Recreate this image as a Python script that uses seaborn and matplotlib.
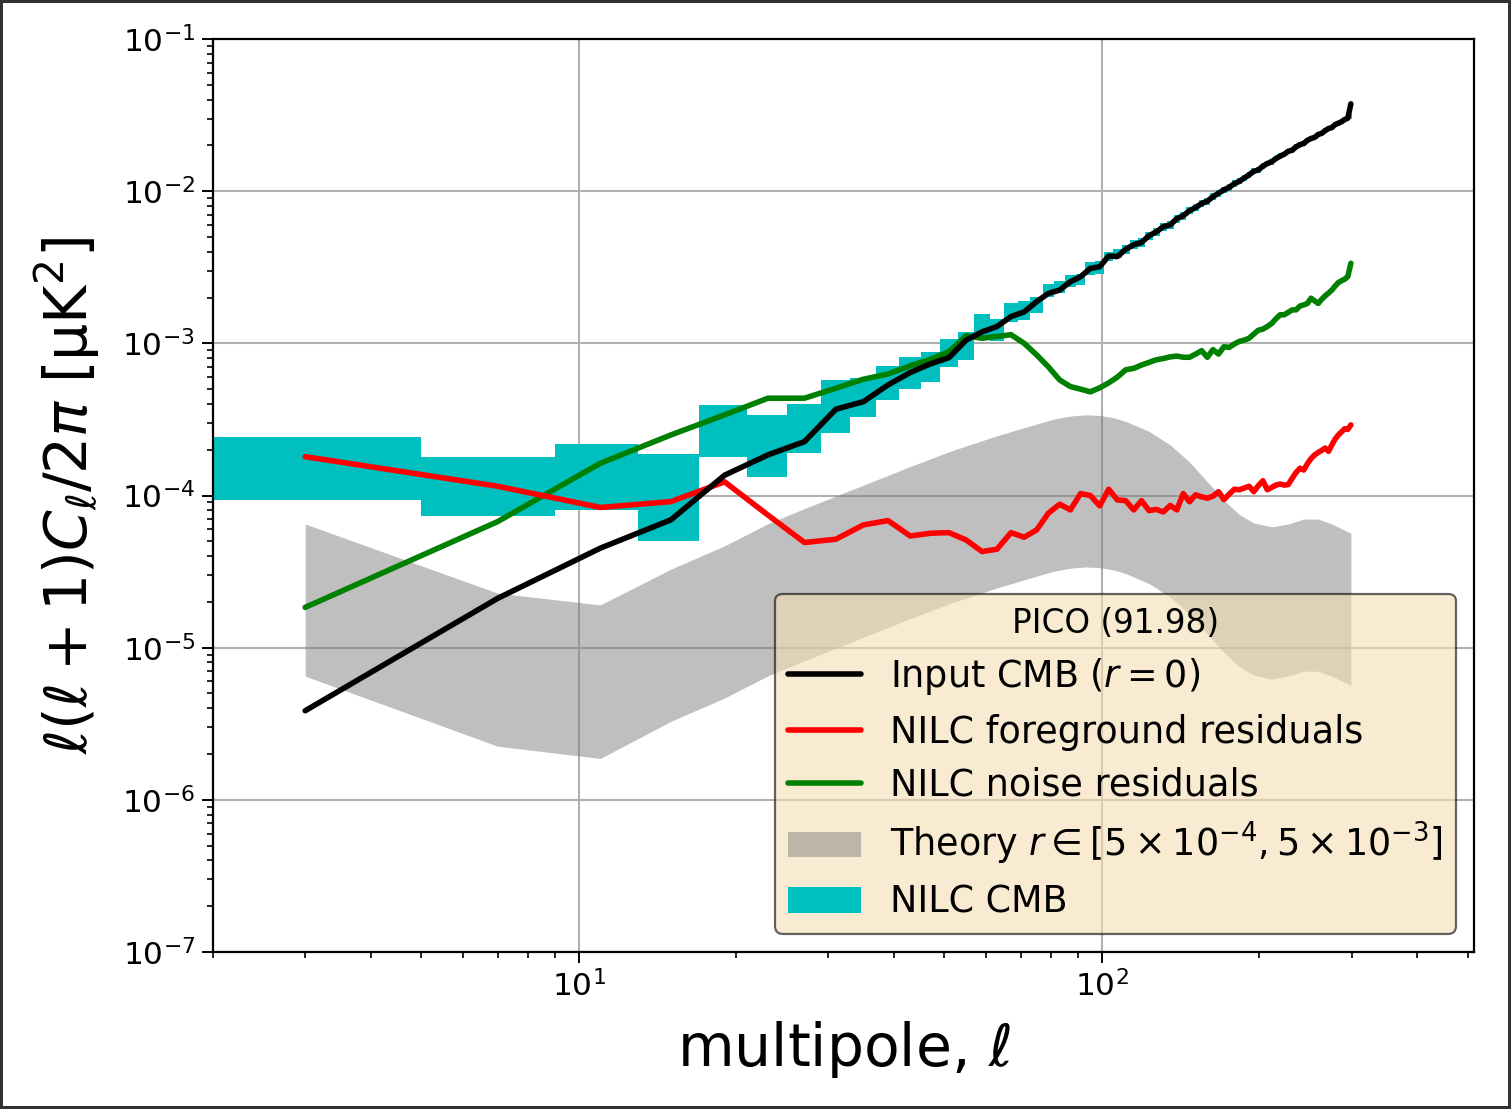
import numpy as np
import pandas as pd
import matplotlib
matplotlib.use("Agg")
import matplotlib.pyplot as plt
from matplotlib.lines import Line2D
from matplotlib.patches import Patch
import seaborn as sns

# ---------------- data ----------------
ell = np.arange(3, 300, 4)          # bin centres (bins of width 4)
bin_width = 4

input_cmb = [3.85e-6, 2.11e-5, 4.51e-5, 6.92e-5, 1.36e-4, 1.85e-4, 2.26e-4, 3.69e-4, 4.14e-4, 5.33e-4,
             6.43e-4, 7.33e-4, 8.06e-4, 1.05e-3, 1.19e-3, 1.29e-3, 1.50e-3, 1.61e-3, 1.88e-3, 2.13e-3,
             2.24e-3, 2.54e-3, 2.74e-3, 3.11e-3, 3.19e-3, 3.75e-3, 3.72e-3, 4.15e-3, 4.45e-3, 4.60e-3,
             5.10e-3, 5.40e-3, 5.85e-3, 6.00e-3, 6.60e-3, 6.90e-3, 7.45e-3, 7.80e-3, 8.30e-3, 8.60e-3,
             9.20e-3, 9.70e-3, 1.02e-2, 1.06e-2, 1.12e-2, 1.16e-2, 1.22e-2, 1.28e-2, 1.35e-2, 1.38e-2,
             1.46e-2, 1.52e-2, 1.56e-2, 1.64e-2, 1.70e-2, 1.75e-2, 1.83e-2, 1.86e-2, 1.96e-2, 2.02e-2,
             2.06e-2, 2.16e-2, 2.22e-2, 2.26e-2, 2.36e-2, 2.40e-2, 2.50e-2, 2.58e-2, 2.62e-2, 2.74e-2,
             2.80e-2, 2.86e-2, 2.96e-2, 3.02e-2, 3.75e-2]

fg_resid = [1.80e-4, 1.15e-4, 8.34e-5, 9.12e-5, 1.23e-4, 7.43e-5, 4.91e-5, 5.16e-5, 6.41e-5, 6.84e-5,
            5.42e-5, 5.65e-5, 5.70e-5, 5.10e-5, 4.28e-5, 4.44e-5, 5.70e-5, 5.32e-5, 5.94e-5, 7.66e-5,
            8.77e-5, 8.04e-5, 1.03e-4, 1.00e-4, 8.55e-5, 1.10e-4, 9.35e-5, 9.25e-5, 8.04e-5, 9.25e-5,
            7.96e-5, 8.10e-5, 7.80e-5, 8.60e-5, 8.04e-5, 1.03e-4, 9.10e-5, 1.01e-4, 9.80e-5, 9.60e-5,
            9.90e-5, 1.06e-4, 9.40e-5, 1.02e-4, 1.10e-4, 1.09e-4, 1.12e-4, 1.15e-4, 1.06e-4, 1.16e-4,
            1.25e-4, 1.09e-4, 1.13e-4, 1.17e-4, 1.19e-4, 1.17e-4, 1.18e-4, 1.30e-4, 1.42e-4, 1.51e-4,
            1.47e-4, 1.62e-4, 1.75e-4, 1.85e-4, 1.92e-4, 1.98e-4, 2.05e-4, 1.95e-4, 2.15e-4, 2.35e-4,
            2.50e-4, 2.62e-4, 2.75e-4, 2.72e-4, 2.91e-4]

noise_resid = [1.84e-5, 6.74e-5, 1.63e-4, 2.50e-4, 3.39e-4, 4.36e-4, 4.36e-4, 5.07e-4, 5.81e-4, 6.29e-4,
               7.11e-4, 7.86e-4, 8.82e-4, 1.12e-3, 1.08e-3, 1.11e-3, 1.14e-3, 1.00e-3, 8.40e-4, 7.00e-4,
               5.75e-4, 5.20e-4, 5.00e-4, 4.80e-4, 5.10e-4, 5.50e-4, 6.00e-4, 6.70e-4, 6.85e-4, 7.20e-4,
               7.50e-4, 7.80e-4, 7.95e-4, 8.15e-4, 8.25e-4, 8.10e-4, 8.10e-4, 8.50e-4, 8.95e-4, 8.10e-4,
               9.10e-4, 8.50e-4, 9.50e-4, 9.40e-4, 9.90e-4, 1.03e-3, 1.05e-3, 1.08e-3, 1.15e-3, 1.22e-3,
               1.24e-3, 1.29e-3, 1.35e-3, 1.45e-3, 1.54e-3, 1.54e-3, 1.60e-3, 1.66e-3, 1.66e-3, 1.76e-3,
               1.79e-3, 1.83e-3, 1.98e-3, 1.90e-3, 1.83e-3, 1.95e-3, 2.05e-3, 2.14e-3, 2.24e-3, 2.38e-3,
               2.51e-3, 2.58e-3, 2.64e-3, 2.75e-3, 3.36e-3]

nilc_lo = [9.35e-5, 7.38e-5, 8.04e-5, 5.06e-5, 1.80e-4, 1.33e-4, 1.91e-4, 2.59e-4, 3.30e-4, 4.25e-4,
           4.99e-4, 5.60e-4, 6.97e-4, 7.79e-4, 1.10e-3, 1.03e-3, 1.39e-3, 1.42e-3, 1.59e-3, 2.01e-3,
           2.13e-3, 2.36e-3, 2.40e-3, 2.81e-3, 2.85e-3, 3.49e-3, 3.62e-3, 3.87e-3, 4.16e-3, 4.30e-3,
           4.77e-3, 5.05e-3, 5.50e-3, 5.64e-3, 6.20e-3, 6.49e-3, 7.04e-3, 7.37e-3, 7.84e-3, 8.13e-3,
           8.74e-3, 9.22e-3, 9.69e-3, 1.007e-2, 1.064e-2, 1.108e-2, 1.165e-2, 1.222e-2, 1.289e-2, 1.318e-2,
           1.399e-2, 1.456e-2, 1.494e-2, 1.571e-2, 1.629e-2, 1.680e-2, 1.757e-2, 1.786e-2, 1.882e-2, 1.939e-2,
           1.982e-2, 2.078e-2, 2.136e-2, 2.174e-2, 2.270e-2, 2.314e-2, 2.410e-2, 2.487e-2, 2.526e-2, 2.641e-2,
           2.702e-2, 2.760e-2, 2.856e-2, 2.914e-2, 2.98e-2]

nilc_hi = [2.44e-4, 1.79e-4, 2.18e-4, 1.87e-4, 3.94e-4, 3.39e-4, 4.00e-4, 5.75e-4, 5.90e-4, 7.11e-4,
           8.11e-4, 8.83e-4, 1.06e-3, 1.19e-3, 1.56e-3, 1.45e-3, 1.84e-3, 1.90e-3, 2.03e-3, 2.46e-3,
           2.58e-3, 2.81e-3, 2.85e-3, 3.44e-3, 3.50e-3, 4.01e-3, 4.18e-3, 4.45e-3, 4.76e-3, 4.90e-3,
           5.43e-3, 5.75e-3, 6.20e-3, 6.36e-3, 7.00e-3, 7.31e-3, 7.86e-3, 8.23e-3, 8.76e-3, 9.07e-3,
           9.66e-3, 1.019e-2, 1.071e-2, 1.113e-2, 1.176e-2, 1.212e-2, 1.275e-2, 1.338e-2, 1.411e-2, 1.442e-2,
           1.521e-2, 1.584e-2, 1.626e-2, 1.709e-2, 1.771e-2, 1.820e-2, 1.903e-2, 1.934e-2, 2.038e-2, 2.101e-2,
           2.138e-2, 2.242e-2, 2.304e-2, 2.346e-2, 2.450e-2, 2.486e-2, 2.590e-2, 2.673e-2, 2.714e-2, 2.839e-2,
           2.898e-2, 2.960e-2, 3.064e-2, 3.126e-2, 3.20e-2]

theory_ell = [3, 7, 11, 15, 19, 23, 27, 35, 43, 51, 63, 75, 81, 87, 93, 99, 105, 111, 123, 135, 147,
              159, 171, 183, 195, 211, 227, 243, 259, 275, 299]
theory_hi = [6.5e-5, 2.28e-5, 1.91e-5, 3.28e-5, 4.67e-5, 6.53e-5, 8.2e-5, 1.17e-4, 1.55e-4, 1.94e-4,
             2.47e-4, 2.95e-4, 3.18e-4, 3.33e-4, 3.39e-4, 3.36e-4, 3.25e-4, 3.07e-4, 2.64e-4, 2.15e-4,
             1.66e-4, 1.23e-4, 9.3e-5, 7.5e-5, 6.6e-5, 6.22e-5, 6.5e-5, 7.0e-5, 7.0e-5, 6.5e-5, 5.65e-5]
theory_lo = [6.5e-6, 2.25e-6, 1.87e-6, 3.28e-6, 4.67e-6, 6.53e-6, 8.2e-6, 1.17e-5, 1.55e-5, 1.94e-5,
             2.47e-5, 2.95e-5, 3.18e-5, 3.33e-5, 3.39e-5, 3.36e-5, 3.25e-5, 3.07e-5, 2.64e-5, 2.15e-5,
             1.66e-5, 1.23e-5, 9.3e-6, 7.5e-6, 6.6e-6, 6.22e-6, 6.5e-6, 7.0e-6, 7.0e-6, 6.5e-6, 5.65e-6]

legend_title = "PICO (91.98)"
labels = ["Input CMB ($r=0$)", "NILC foreground residuals", "NILC noise residuals",
          r"Theory $r\in[5\times10^{-4},5\times10^{-3}]$", "NILC CMB"]

# ---------------- plotting ----------------
sns.set_style("ticks")
plt.rcParams["font.family"] = ["DejaVu Sans"]
plt.rcParams["mathtext.fontset"] = "dejavusans"
plt.rcParams["text.color"] = "black"
plt.rcParams["axes.labelcolor"] = "black"
plt.rcParams["xtick.color"] = "black"
plt.rcParams["ytick.color"] = "black"
plt.rcParams["axes.edgecolor"] = "black"

fig = plt.figure(figsize=(15.11, 11.09), dpi=100)
fig.patch.set_facecolor("white")
fig.patch.set_edgecolor("#333333")
fig.patch.set_linewidth(4)
ax = fig.add_axes([0.141, 0.1416, 0.8345, 0.8232])

# theory band
ax.fill_between(theory_ell, theory_lo, theory_hi, color="gray", alpha=0.5, linewidth=0, zorder=1)

# NILC CMB error boxes
lo = np.array(nilc_lo)
hi = np.array(nilc_hi)
ax.bar(ell - bin_width / 2, hi - lo, bottom=lo, width=bin_width, align="edge",
       color="c", linewidth=0, zorder=2)

df = pd.DataFrame({"ell": ell, "cmb": input_cmb, "fg": fg_resid, "noise": noise_resid})
lw = 4.0
sns.lineplot(data=df, x="ell", y="noise", color="green", ax=ax, estimator=None, sort=False)
sns.lineplot(data=df, x="ell", y="fg", color="red", ax=ax, estimator=None, sort=False)
sns.lineplot(data=df, x="ell", y="cmb", color="black", ax=ax, estimator=None, sort=False)
for z, line in enumerate(ax.get_lines()):
    line.set_linewidth(lw)
    line.set_zorder(3 + z)
    line.set_solid_joinstyle("round")

ax.set_xscale("log")
ax.set_yscale("log")
ax.set_xlim(2, 514)
ax.set_ylim(1e-7, 1e-1)

ax.grid(True, which="major", color="#b0b0b0", linewidth=1.5, zorder=0)
ax.set_axisbelow(True)
for s in ax.spines.values():
    s.set_linewidth(1.6)
    s.set_color("black")
ax.tick_params(which="major", direction="out", length=8, width=1.4, labelsize=22.5, pad=5,
               color="black", labelcolor="black")
ax.tick_params(which="minor", direction="out", length=4.5, width=1.2, color="black")

ax.set_xlabel(r"multipole, $\ell$", fontsize=42, labelpad=12, color="black")
ax.set_ylabel(r"$\ell(\ell+1)C_\ell/2\pi$ [μK$^2$]", fontsize=42, labelpad=14, color="black")

handles = [Line2D([], [], color="black", linewidth=lw),
           Line2D([], [], color="red", linewidth=lw),
           Line2D([], [], color="green", linewidth=lw),
           Patch(facecolor="gray", alpha=0.5, linewidth=0),
           Patch(facecolor="c", linewidth=0)]
leg = ax.legend(handles, labels, title=legend_title, loc="lower right", fontsize=26.3,
                title_fontsize=23.5, facecolor="wheat", edgecolor="black", framealpha=0.6,
                fancybox=True, labelspacing=0.45, borderpad=0.35)
leg.get_frame().set_linewidth(1.6)
leg.set_zorder(10)
for t in leg.get_texts():
    t.set_color("black")
leg.get_title().set_color("black")

fig.savefig("out.png", dpi=100, facecolor=fig.get_facecolor(), edgecolor=fig.get_edgecolor())
